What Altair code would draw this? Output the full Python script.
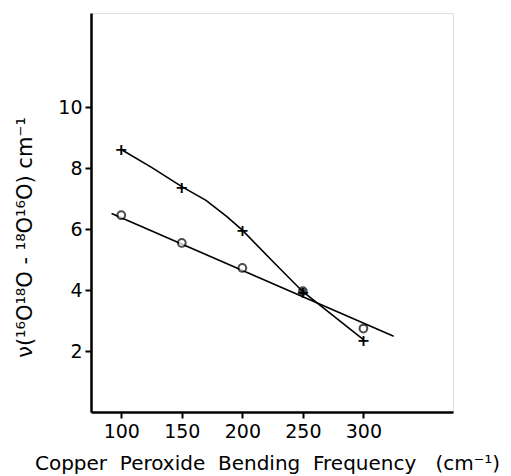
import altair as alt
import pandas as pd

# plus series (hand-drawn curve)
plus_x = [100, 150, 200, 250, 300]
plus_y = [8.62, 7.40, 5.97, 3.95, 2.38]
# curve drawn through the plus points
curve_x = [100, 125, 150, 170, 187, 200, 225, 250, 300]
curve_y = [8.62, 8.03, 7.40, 6.95, 6.42, 5.97, 4.95, 3.95, 2.38]
# circle series
circ_x = [100, 150, 200, 250, 300]
circ_y = [6.46, 5.55, 4.73, 3.97, 2.74]
circ_filled = [False, False, False, True, False]
# straight fitted line through circles
fit_x = [92, 325]
fit_y = [6.52, 2.49]

x_ticks = [100, 150, 200, 250, 300]
y_ticks = [2, 4, 6, 8, 10]

FONT = "DejaVu Sans"
NB = "\u00a0"

plus_df = pd.DataFrame({"x": plus_x, "y": plus_y})
curve_df = pd.DataFrame({"x": curve_x, "y": curve_y})
circ_df = pd.DataFrame({"x": circ_x, "y": circ_y, "filled": circ_filled})
fit_df = pd.DataFrame({"x": fit_x, "y": fit_y})

xs = alt.Scale(domain=[75, 374], nice=False, zero=False)
ys = alt.Scale(domain=[0, 13.1], nice=False, zero=False)

x_title = f"Copper{NB}{NB}Peroxide{NB}{NB}Bending{NB}{NB}Frequency{NB}{NB}{NB}(cm⁻¹)"

xax = alt.Axis(values=x_ticks, grid=False, domainColor="black", domainWidth=2.5,
               tickColor="black", tickWidth=2, tickSize=6, labelFont=FONT,
               labelFontSize=19, labelColor="black", labelPadding=4,
               title=x_title,
               titleFont=FONT, titleFontSize=20, titleFontWeight="normal",
               titleColor="black", titlePadding=12, titleX=176)
yax = alt.Axis(values=y_ticks, grid=False, domainColor="black", domainWidth=2.5,
               tickColor="black", tickWidth=2, tickSize=6, labelFont=FONT,
               labelFontSize=19, labelColor="black", labelPadding=3,
               title="ν(¹⁶O¹⁸O - ¹⁸O¹⁶O) cm⁻¹",
               titleFont=FONT, titleFontSize=21, titleFontWeight="normal",
               titleColor="black", titleX=-56, titleY=224)

curve = alt.Chart(curve_df).mark_line(color="black", strokeWidth=1.6, interpolate="linear").encode(
    x=alt.X("x:Q", scale=xs, axis=xax),
    y=alt.Y("y:Q", scale=ys, axis=yax),
)
fit = alt.Chart(fit_df).mark_line(color="black", strokeWidth=1.6).encode(
    x=alt.X("x:Q", scale=xs), y=alt.Y("y:Q", scale=ys)
)
plus = alt.Chart(plus_df).mark_text(text="+", fontSize=16, font=FONT, color="black",
                                     fontWeight="bold", baseline="middle", align="center", dy=1).encode(
    x=alt.X("x:Q", scale=xs), y=alt.Y("y:Q", scale=ys)
)
circ = alt.Chart(circ_df).mark_point(shape="circle", size=60, strokeWidth=2, color="black").encode(
    x=alt.X("x:Q", scale=xs), y=alt.Y("y:Q", scale=ys),
    fill=alt.condition("datum.filled", alt.value("black"), alt.value("white")),
    fillOpacity=alt.value(1),
)

chart = alt.layer(curve, fit, plus, circ).properties(
    width=362, height=399,
    autosize=alt.AutoSizeParams(type="none"),
    padding={"left": 91, "top": 13, "right": 58, "bottom": 64},
).configure_view(stroke=None).configure(background="white")

chart.save("out.html", embed_options={"renderer": "svg", "actions": False})
